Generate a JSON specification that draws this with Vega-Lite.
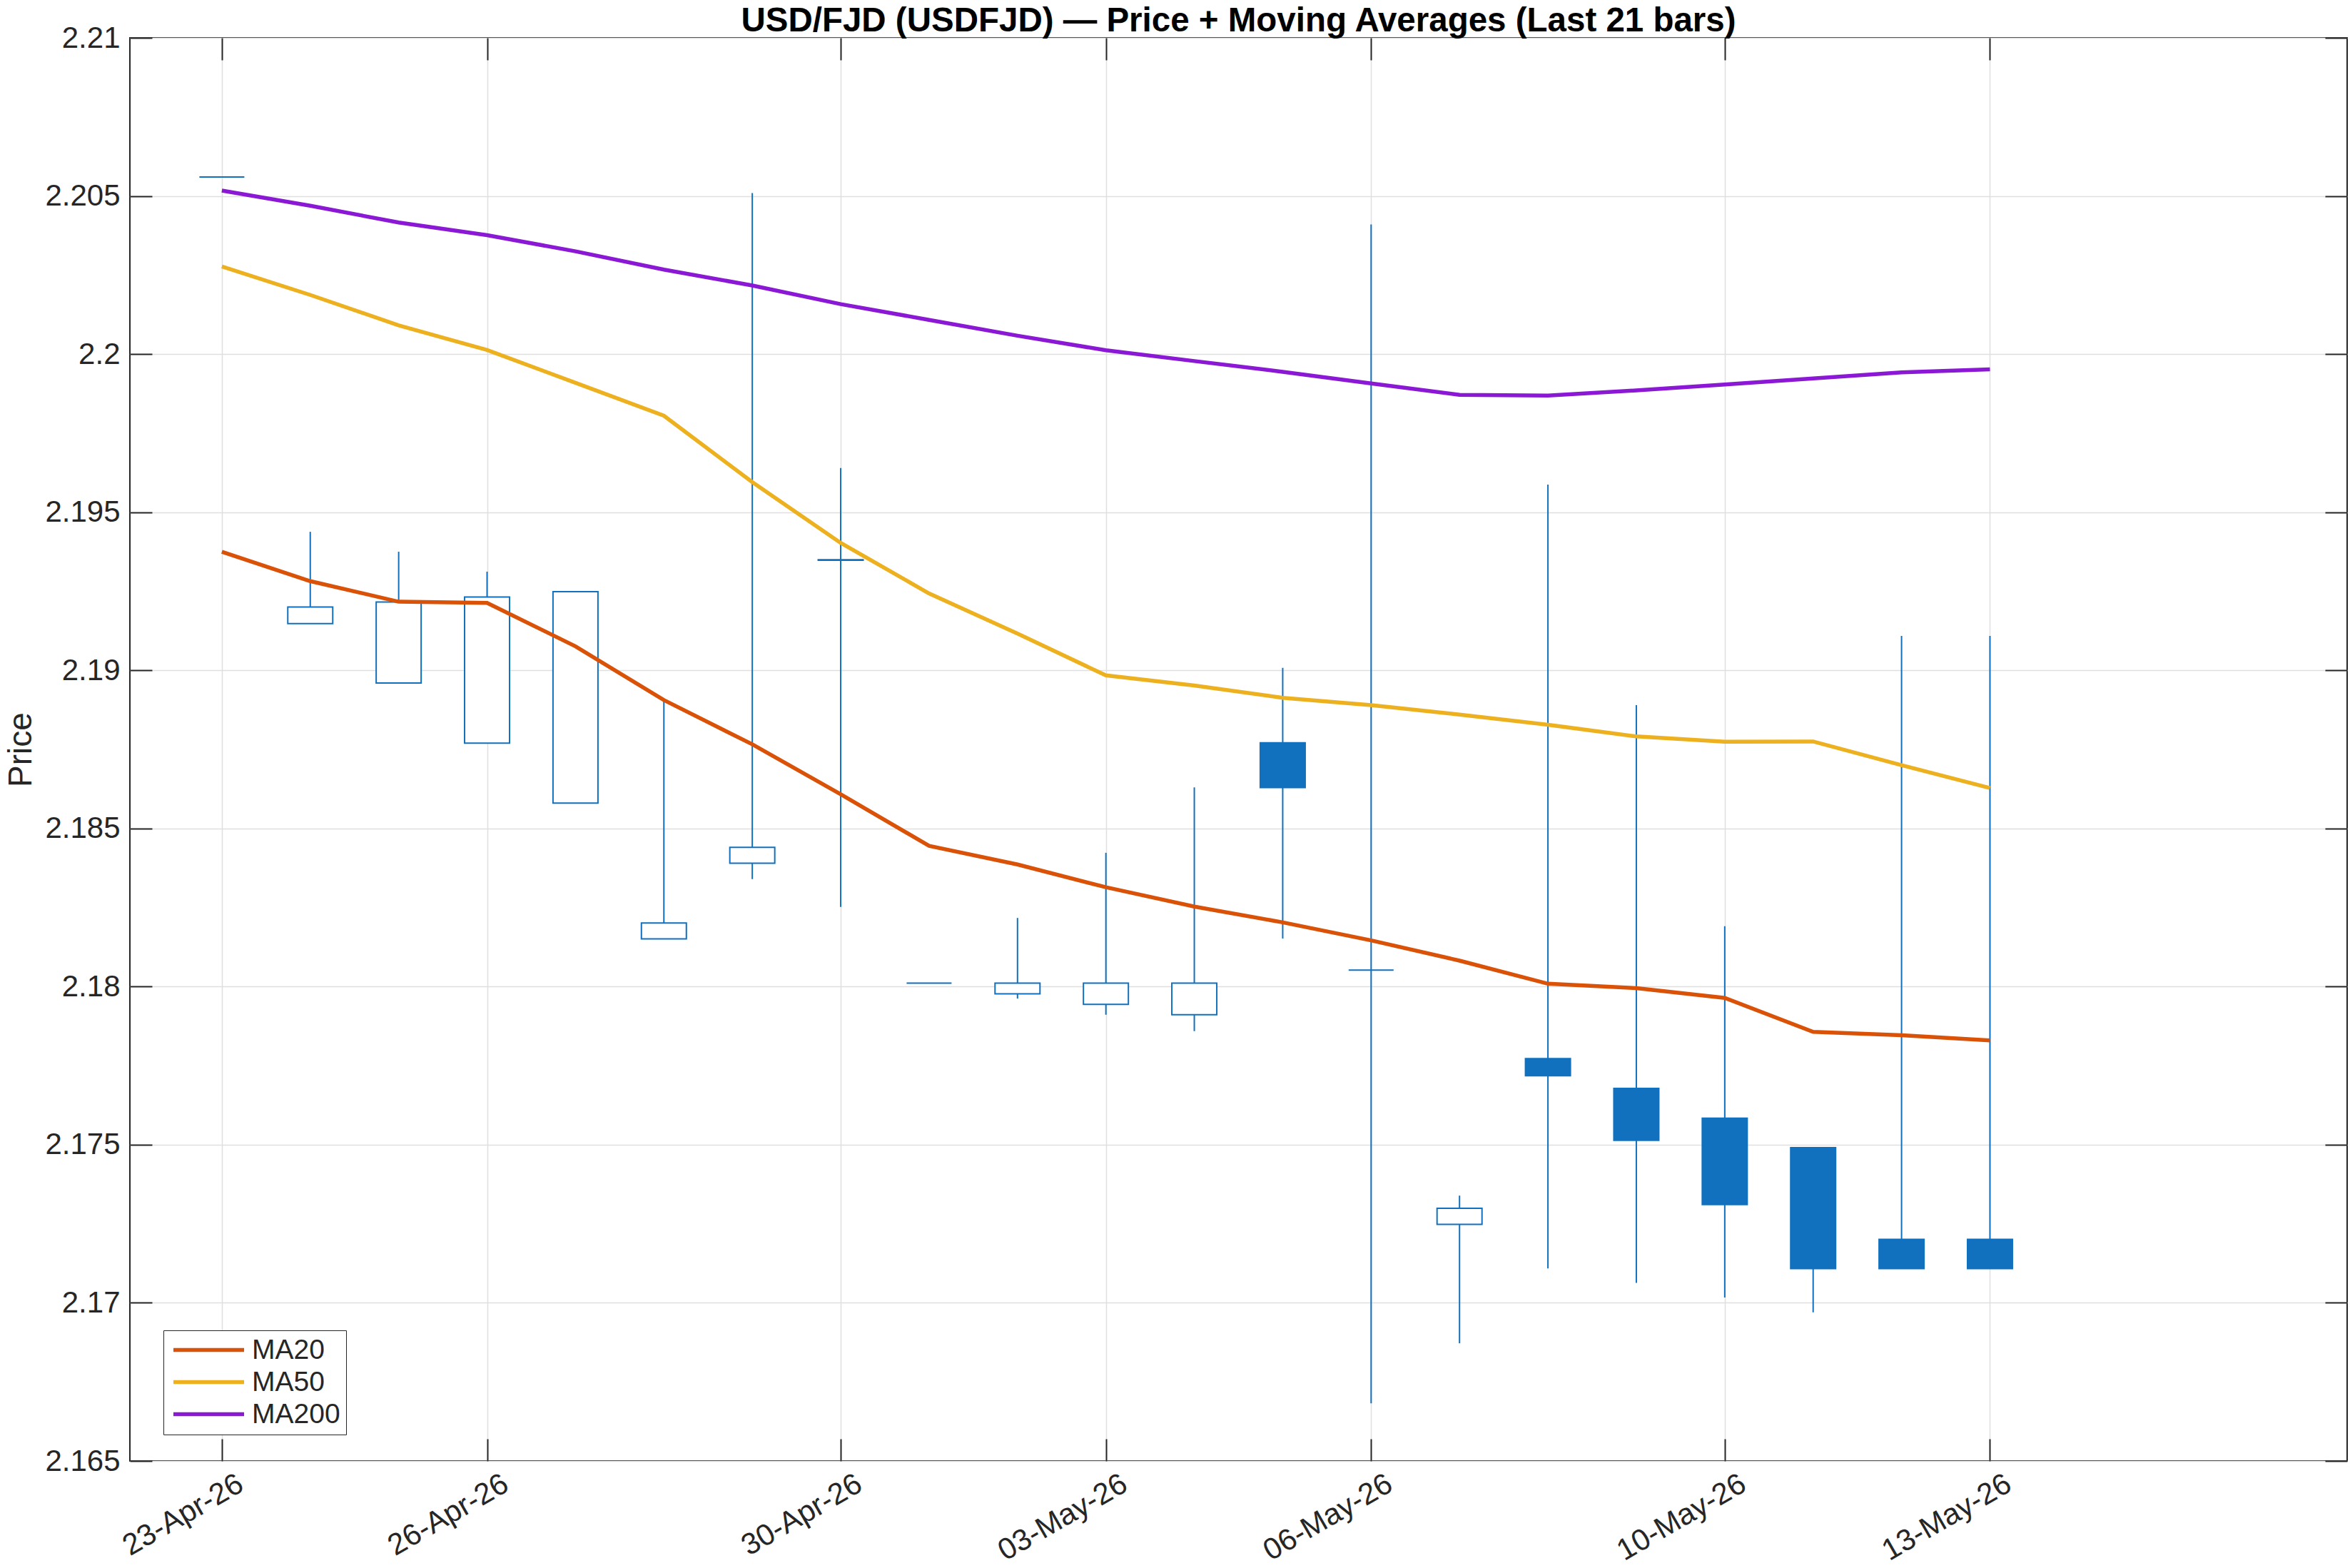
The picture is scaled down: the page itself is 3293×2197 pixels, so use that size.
{
  "$schema": "https://vega.github.io/schema/vega-lite/v6.json",
  "width": 3107,
  "height": 1994,
  "autosize": {"type": "none"},
  "padding": {"left": 182, "top": 53, "right": 4, "bottom": 150},
  "background": "white",
  "config": {
    "font": "Liberation Sans",
    "view": {"stroke": "#262626", "strokeWidth": 2},
    "axis": {
      "domain": false,
      "tickColor": "#262626",
      "tickWidth": 2,
      "tickSize": -31,
      "gridColor": "#DFDFDF",
      "gridWidth": 1.5,
      "labelColor": "#262626",
      "labelFont": "Liberation Sans",
      "labelFontSize": 42,
      "labelLimit": 0,
      "titleColor": "#262626",
      "titleFont": "Liberation Sans",
      "titleFontSize": 46,
      "titleFontWeight": "normal"
    }
  },
  "title": {
    "text": "USD/FJD (USDFJD) — Price + Moving Averages (Last 21 bars)",
    "font": "Liberation Sans",
    "fontSize": 47.5,
    "fontWeight": "bold",
    "color": "#000000",
    "anchor": "middle",
    "offset": 6,
    "dy": 27
  },
  "data": {
    "values": [
      {"date": "2026-04-23T00:00:00", "open": 2.2056, "high": 2.2056, "low": 2.2056, "close": 2.2056, "MA20": 2.19375, "MA50": 2.20277, "MA200": 2.20517},
      {"date": "2026-04-24T00:00:00", "open": 2.19148, "high": 2.19438, "low": 2.19148, "close": 2.192, "MA20": 2.19282, "MA50": 2.20187, "MA200": 2.20469},
      {"date": "2026-04-25T00:00:00", "open": 2.1896, "high": 2.19375, "low": 2.1896, "close": 2.19216, "MA20": 2.19217, "MA50": 2.20091, "MA200": 2.20416},
      {"date": "2026-04-26T00:00:00", "open": 2.1877, "high": 2.19312, "low": 2.1877, "close": 2.19232, "MA20": 2.19213, "MA50": 2.20013, "MA200": 2.20376},
      {"date": "2026-04-27T00:00:00", "open": 2.1858, "high": 2.19249, "low": 2.1858, "close": 2.19249, "MA20": 2.19076, "MA50": 2.19909, "MA200": 2.20325},
      {"date": "2026-04-28T00:00:00", "open": 2.18151, "high": 2.18906, "low": 2.18151, "close": 2.18201, "MA20": 2.18906, "MA50": 2.19805, "MA200": 2.20267},
      {"date": "2026-04-29T00:00:00", "open": 2.1839, "high": 2.20509, "low": 2.1834, "close": 2.1844, "MA20": 2.18766, "MA50": 2.19595, "MA200": 2.20217},
      {"date": "2026-04-30T00:00:00", "open": 2.19348, "high": 2.1964, "low": 2.18252, "close": 2.1935, "MA20": 2.18608, "MA50": 2.19403, "MA200": 2.20158},
      {"date": "2026-05-01T00:00:00", "open": 2.18011, "high": 2.18011, "low": 2.18011, "close": 2.18011, "MA20": 2.18445, "MA50": 2.19243, "MA200": 2.20108},
      {"date": "2026-05-02T00:00:00", "open": 2.17977, "high": 2.18217, "low": 2.17962, "close": 2.18011, "MA20": 2.18386, "MA50": 2.19116, "MA200": 2.20058},
      {"date": "2026-05-03T00:00:00", "open": 2.17944, "high": 2.18423, "low": 2.17911, "close": 2.18011, "MA20": 2.18314, "MA50": 2.18984, "MA200": 2.20012},
      {"date": "2026-05-04T00:00:00", "open": 2.17911, "high": 2.1863, "low": 2.17859, "close": 2.18011, "MA20": 2.18253, "MA50": 2.18952, "MA200": 2.19978},
      {"date": "2026-05-05T00:00:00", "open": 2.18771, "high": 2.19008, "low": 2.18152, "close": 2.18629, "MA20": 2.18203, "MA50": 2.18913, "MA200": 2.19944},
      {"date": "2026-05-06T00:00:00", "open": 2.18052, "high": 2.2041, "low": 2.16682, "close": 2.18052, "MA20": 2.18146, "MA50": 2.1889, "MA200": 2.19907},
      {"date": "2026-05-07T00:00:00", "open": 2.17248, "high": 2.17339, "low": 2.16872, "close": 2.17299, "MA20": 2.18082, "MA50": 2.1886, "MA200": 2.19871},
      {"date": "2026-05-08T00:00:00", "open": 2.17772, "high": 2.19587, "low": 2.17109, "close": 2.17718, "MA20": 2.18009, "MA50": 2.18828, "MA200": 2.19869},
      {"date": "2026-05-09T00:00:00", "open": 2.17678, "high": 2.1889, "low": 2.17063, "close": 2.17514, "MA20": 2.17995, "MA50": 2.18791, "MA200": 2.19885},
      {"date": "2026-05-10T00:00:00", "open": 2.17584, "high": 2.18191, "low": 2.17017, "close": 2.17311, "MA20": 2.17964, "MA50": 2.18774, "MA200": 2.19904},
      {"date": "2026-05-11T00:00:00", "open": 2.17491, "high": 2.17491, "low": 2.1697, "close": 2.17108, "MA20": 2.17857, "MA50": 2.18775, "MA200": 2.19923},
      {"date": "2026-05-12T00:00:00", "open": 2.17201, "high": 2.19109, "low": 2.17108, "close": 2.17108, "MA20": 2.17846, "MA50": 2.187, "MA200": 2.19942},
      {"date": "2026-05-13T00:00:00", "open": 2.17201, "high": 2.19109, "low": 2.17108, "close": 2.17108, "MA20": 2.1783, "MA50": 2.18628, "MA200": 2.19952}
    ]
  },
  "resolve": {"axis": {"x": "independent", "y": "independent"}},
  "layer": [
    {
      "mark": {"type": "rule", "color": "#1171BE", "strokeWidth": 2},
      "encoding": {
        "x": {
          "field": "date", "type": "temporal",
          "scale": {"domain": [{"year": 2026, "month": "apr", "date": 22}, {"year": 2026, "month": "may", "date": 17}]},
          "axis": {
            "title": null,
            "format": "%d-%b-%y",
            "values": [
              {"year": 2026, "month": "apr", "date": 23},
              {"year": 2026, "month": "apr", "date": 26},
              {"year": 2026, "month": "apr", "date": 30},
              {"year": 2026, "month": "may", "date": 3},
              {"year": 2026, "month": "may", "date": 6},
              {"year": 2026, "month": "may", "date": 10},
              {"year": 2026, "month": "may", "date": 13}
            ],
            "labelAngle": -30,
            "labelAlign": "right",
            "labelBaseline": "top",
            "labelOffset": 16,
            "labelPadding": 42,
            "grid": true
          }
        },
        "y": {
          "field": "low", "type": "quantitative",
          "scale": {"domain": [2.165, 2.21], "zero": false, "nice": false},
          "axis": {
            "title": "Price",
            "values": [2.165, 2.17, 2.175, 2.18, 2.185, 2.19, 2.195, 2.2, 2.205, 2.21],
            "format": ".3~f",
            "labelPadding": 45,
            "titlePadding": 9,
            "grid": true
          }
        },
        "y2": {"field": "high"}
      }
    },
    {
      "mark": {"type": "bar", "size": 63, "stroke": "#1171BE", "strokeWidth": 2},
      "encoding": {
        "x": {
          "field": "date", "type": "temporal",
          "axis": {
            "orient": "top", "title": null, "labels": false, "grid": false,
            "values": [
              {"year": 2026, "month": "apr", "date": 23},
              {"year": 2026, "month": "apr", "date": 26},
              {"year": 2026, "month": "apr", "date": 30},
              {"year": 2026, "month": "may", "date": 3},
              {"year": 2026, "month": "may", "date": 6},
              {"year": 2026, "month": "may", "date": 10},
              {"year": 2026, "month": "may", "date": 13}
            ]
          }
        },
        "y": {
          "field": "open", "type": "quantitative",
          "axis": {
            "orient": "right", "title": null, "labels": false, "grid": false,
            "values": [2.165, 2.17, 2.175, 2.18, 2.185, 2.19, 2.195, 2.2, 2.205, 2.21]
          }
        },
        "y2": {"field": "close"},
        "fill": {"condition": {"test": "datum.close < datum.open", "value": "#1171BE"}, "value": "#FFFFFF"}
      }
    },
    {
      "transform": [{"fold": ["MA20", "MA50", "MA200"], "as": ["series", "value"]}],
      "mark": {"type": "line", "strokeWidth": 5.5},
      "encoding": {
        "x": {"field": "date", "type": "temporal", "axis": null},
        "y": {"field": "value", "type": "quantitative", "axis": null},
        "color": {
          "field": "series", "type": "nominal",
          "scale": {"domain": ["MA20", "MA50", "MA200"], "range": ["#DA5208", "#EDB120", "#8A18D5"]},
          "legend": {
            "title": null,
            "orient": "none",
            "legendX": 47,
            "legendY": 1811,
            "symbolType": "stroke",
            "symbolSize": 9801,
            "symbolStrokeWidth": 5.5,
            "clipHeight": 39,
            "labelFontSize": 39,
            "labelFont": "Liberation Sans",
            "labelColor": "#262626",
            "labelOffset": 8,
            "rowPadding": 5,
            "padding": 8,
            "symbolOffset": 3,
            "strokeColor": "#262626",
            "fillColor": "#FFFFFF"
          }
        }
      }
    }
  ]
}
